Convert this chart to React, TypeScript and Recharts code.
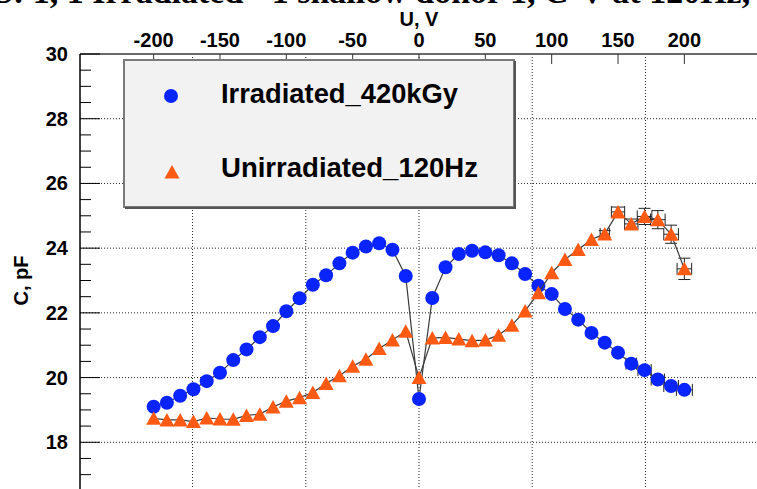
import React from 'react';
import { ScatterChart, Scatter, XAxis, YAxis, CartesianGrid, ErrorBar, Legend } from 'recharts';

const voltages = [-200, -190, -180, -170, -160, -150, -140, -130, -120, -110, -100, -90, -80, -70, -60, -50, -40, -30, -20, -10, 0, 10, 20, 30, 40, 50, 60, 70, 80, 90, 100, 110, 120, 130, 140, 150, 160, 170, 180, 190, 200];

const irradiatedC = [19.10, 19.22, 19.44, 19.64, 19.89, 20.15, 20.54, 20.87, 21.25, 21.59, 22.05, 22.45, 22.87, 23.16, 23.53, 23.86, 24.05, 24.15, 23.95, 23.14, 19.34, 22.46, 23.41, 23.82, 23.92, 23.87, 23.78, 23.53, 23.20, 22.84, 22.58, 22.12, 21.79, 21.38, 21.08, 20.77, 20.43, 20.23, 19.94, 19.74, 19.62];
const irradiatedXErr = [0, 0, 0, 0, 0, 0, 0, 0, 0, 0, 0, 0, 0, 0, 0, 0, 0, 0, 0, 0, 0, 0, 0, 0, 0, 0, 0, 0, 0, 0, 0, 0, 0, 0, 0, 0, 4, 5, 5, 5.5, 6];
const irradiatedYErr = [0, 0, 0, 0, 0, 0, 0, 0, 0, 0, 0, 0, 0, 0, 0, 0, 0, 0, 0, 0, 0, 0, 0, 0, 0, 0, 0, 0, 0, 0, 0, 0, 0, 0, 0, 0, 0, 0, 0, 0, 0];

const unirradiatedC = [18.74, 18.69, 18.69, 18.64, 18.75, 18.72, 18.71, 18.83, 18.87, 19.09, 19.27, 19.38, 19.54, 19.82, 20.06, 20.35, 20.57, 20.90, 21.16, 21.43, 20.00, 21.22, 21.24, 21.19, 21.14, 21.16, 21.31, 21.62, 22.06, 22.62, 23.24, 23.65, 23.96, 24.27, 24.44, 25.12, 24.75, 24.98, 24.88, 24.43, 23.36];
const unirradiatedXErr = [0, 0, 0, 0, 0, 0, 0, 0, 0, 0, 0, 0, 0, 0, 0, 0, 0, 0, 0, 0, 0, 0, 0, 0, 0, 0, 0, 0, 0, 0, 0, 0, 0, 0, 3.5, 5, 5, 5.5, 5.5, 5.5, 5.5];
const unirradiatedYErr = [0, 0, 0, 0, 0, 0, 0, 0, 0, 0, 0, 0, 0, 0, 0, 0, 0, 0, 0, 0, 0, 0, 0, 0, 0, 0, 0, 0, 0, 0, 0, 0, 0, 0, 0.1, 0.15, 0.15, 0.25, 0.28, 0.28, 0.33];

const topTicks = [-200, -150, -100, -50, 0, 50, 100, 150, 200];
const gridVoltages = [-170.67, -85.33, 0, 85.33, 170.67];
const yTicks = [16, 16.5, 17, 17.5, 18, 18.5, 19, 19.5, 20, 20.5, 21, 21.5, 22, 22.5, 23, 23.5, 24, 24.5, 25, 25.5, 26, 26.5, 27, 27.5, 28, 28.5, 29, 29.5, 30];
const yMajor = [18, 20, 22, 24, 26, 28];
const yLabeled = [18, 20, 22, 24, 26, 28, 30];

const seriesNames = ['Irradiated_420kGy', 'Unirradiated_120Hz'];
const xTitle = 'U, V';
const yTitle = 'C, pF';
const titleText = 'S: 1, 1 Irradiated - 1 shallow donor 1, C-V at 120Hz, 20 C';

const BLUE = '#0a24ff';
const ORANGE = '#ff5a14';
const FONT = '"Liberation Sans", Arial, Helvetica, sans-serif';

const irrData = voltages.map((v, i) => ({ v, c: irradiatedC[i], xErr: irradiatedXErr[i], yErr: irradiatedYErr[i] }));
const unirrData = voltages.map((v, i) => ({ v, c: unirradiatedC[i], xErr: unirradiatedXErr[i], yErr: unirradiatedYErr[i] }));

const CircleMarker = (props: any) => {
  const { cx, cy } = props;
  return <circle cx={cx} cy={cy} r={7} fill={BLUE} />;
};

const triPoints = (cx: number, cy: number) => `${cx - 7.5},${cy + 6.5} ${cx + 7.5},${cy + 6.5} ${cx},${cy - 7}`;

const TriangleMarker = (props: any) => {
  const { cx, cy } = props;
  return <polygon points={triPoints(cx, cy)} fill={ORANGE} />;
};

const TopTick = (props: any) => {
  const { x, y, payload } = props;
  return (
    <g>
      <line x1={x} x2={x} y1={y} y2={y + 10} stroke="#333" strokeWidth={1} />
      <text x={x} y={y - 7} textAnchor="middle" fontFamily={FONT} fontWeight="bold" fontSize={20} fill="#000">
        {payload.value}
      </text>
    </g>
  );
};

const LeftTick = (props: any) => {
  const { x, y, payload } = props;
  const val = payload.value;
  const labeled = yLabeled.indexOf(val) >= 0;
  const major = Number.isInteger(val / 2);
  return (
    <g>
      <line x1={x} x2={x + (major ? 20 : 11)} y1={y} y2={y} stroke="#000" strokeWidth={1} />
      {labeled ? (
        <text x={x - 12} y={y + 7} textAnchor="end" fontFamily={FONT} fontWeight="bold" fontSize={20} fill="#000">
          {val}
        </text>
      ) : null}
    </g>
  );
};

const XTitle = (props: any) => {
  const vb = props.viewBox || {};
  return (
    <text x={vb.x + vb.width / 2} y={26} textAnchor="middle" fontFamily={FONT} fontWeight="bold" fontSize={20} fill="#000">
      {xTitle}
    </text>
  );
};

const YTitle = (props: any) => {
  const vb = props.viewBox || {};
  const cy = vb.y + vb.height / 2;
  return (
    <text x={28} y={cy} transform={`rotate(-90 28 ${cy})`} textAnchor="middle" fontFamily={FONT} fontWeight="bold" fontSize={20} fill="#000">
      {yTitle}
    </text>
  );
};

const LegendBox = () => (
  <svg width={393} height={150} style={{ display: 'block' }}>
    <rect x={1} y={1} width={390} height={147} fill="#f2f2f2" stroke="#7a7a7a" strokeWidth={2} />
    <line x1={2} x2={392} y1={149} y2={149} stroke="#555" strokeWidth={2} />
    <line x1={392} x2={392} y1={2} y2={150} stroke="#555" strokeWidth={2} />
    <circle cx={48} cy={37} r={7} fill={BLUE} />
    <text x={98} y={44} fontFamily={FONT} fontWeight="bold" fontSize={28} fill="#000" textLength={237} lengthAdjust="spacingAndGlyphs">{seriesNames[0]}</text>
    <polygon points={triPoints(49, 113)} fill={ORANGE} />
    <text x={98} y={118} fontFamily={FONT} fontWeight="bold" fontSize={28} fill="#000" textLength={257} lengthAdjust="spacingAndGlyphs">{seriesNames[1]}</text>
  </svg>
);

export default function App() {
  return (
    <div style={{ position: 'fixed', left: 0, top: 0, width: 757, height: 489, overflow: 'hidden', background: '#fff' }}>
      <svg width={757} height={20} style={{ position: 'absolute', left: 0, top: 0, zIndex: 2 }}>
        <text x={-6} y={3} fontFamily='"Liberation Serif", "Times New Roman", serif' fontWeight="bold" fontSize={34} fill="#000">{titleText}</text>
      </svg>
      <ScatterChart width={800} height={530} margin={{ top: 0, right: 42, bottom: 23, left: 0 }}>
        <XAxis
          xAxisId="top"
          orientation="top"
          type="number"
          dataKey="v"
          domain={[-255.5, 255.5]}
          ticks={topTicks}
          interval={0}
          height={54}
          tickSize={0}
          tickMargin={0}
          tickLine={false}
          tick={<TopTick />}
          axisLine={{ stroke: '#6b6b6b', strokeWidth: 2 }}
          allowDataOverflow
          label={<XTitle />}
        />
        <XAxis xAxisId="grid" orientation="bottom" type="number" dataKey="v" domain={[-255.5, 255.5]} ticks={gridVoltages} hide allowDataOverflow />
        <YAxis
          yAxisId="c"
          type="number"
          dataKey="c"
          domain={[16, 30]}
          ticks={yTicks}
          interval={0}
          width={80}
          tickSize={0}
          tickMargin={0}
          tickLine={false}
          tick={<LeftTick />}
          axisLine={{ stroke: '#000', strokeWidth: 1.5 }}
          allowDataOverflow
          label={<YTitle />}
        />
        <CartesianGrid
          xAxisId="grid"
          yAxisId="c"
          stroke="#222"
          strokeDasharray="1 2"
          strokeWidth={1}
          horizontalValues={yMajor}
          verticalValues={gridVoltages}
          fill="none"
        />
        <Legend
          layout="vertical"
          align="center"
          verticalAlign="middle"
          wrapperStyle={{ left: 123, top: 59, width: 393, height: 150 }}
          content={<LegendBox />}
        />
        <Scatter
          name={seriesNames[0]}
          xAxisId="top"
          yAxisId="c"
          data={irrData}
          dataKey="c"
          shape={<CircleMarker />}
          line={{ stroke: '#3a3a3a', strokeWidth: 1.2 }}
          lineJointType="linear"
          isAnimationActive={false}
        >
          <ErrorBar dataKey="xErr" direction="x" width={6} stroke="#222" strokeWidth={1} isAnimationActive={false} />
          <ErrorBar dataKey="yErr" direction="y" width={6} stroke="#222" strokeWidth={1} isAnimationActive={false} />
        </Scatter>
        <Scatter
          name={seriesNames[1]}
          xAxisId="top"
          yAxisId="c"
          data={unirrData}
          dataKey="c"
          shape={<TriangleMarker />}
          line={{ stroke: '#3a3a3a', strokeWidth: 1.2 }}
          lineJointType="linear"
          isAnimationActive={false}
        >
          <ErrorBar dataKey="xErr" direction="x" width={6} stroke="#222" strokeWidth={1} isAnimationActive={false} />
          <ErrorBar dataKey="yErr" direction="y" width={6} stroke="#222" strokeWidth={1} isAnimationActive={false} />
        </Scatter>
      </ScatterChart>
    </div>
  );
}
